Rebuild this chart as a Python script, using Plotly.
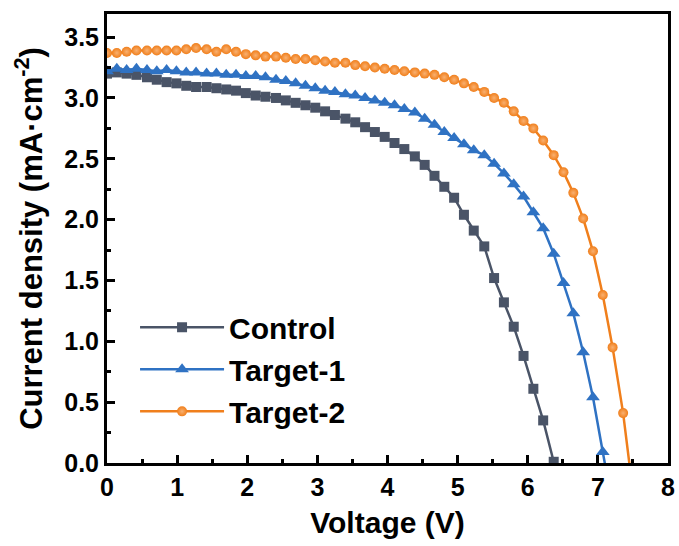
import plotly.graph_objects as go

# Shared voltage sweep (V)
voltage = [0.00, 0.14, 0.28, 0.42, 0.57, 0.71, 0.85, 0.99, 1.13, 1.27,
           1.42, 1.56, 1.70, 1.84, 1.98, 2.12, 2.26, 2.41, 2.55, 2.69,
           2.83, 2.97, 3.11, 3.25, 3.40, 3.54, 3.68, 3.82, 3.96, 4.10,
           4.24, 4.39, 4.53, 4.67, 4.81, 4.95, 5.09, 5.23, 5.38, 5.52,
           5.66, 5.80, 5.94, 6.08, 6.22, 6.37, 6.51, 6.65, 6.79, 6.93,
           7.07, 7.21, 7.36, 7.50]

# Current density (mA/cm^2)
control = [3.20, 3.21, 3.20, 3.19, 3.17, 3.15, 3.13, 3.12, 3.10, 3.09,
           3.09, 3.08, 3.07, 3.06, 3.04, 3.02, 3.01, 3.00, 2.98, 2.96,
           2.94, 2.92, 2.89, 2.86, 2.83, 2.80, 2.76, 2.72, 2.68, 2.63,
           2.58, 2.52, 2.45, 2.36, 2.27, 2.18, 2.04, 1.91, 1.78, 1.52,
           1.32, 1.12, 0.88, 0.61, 0.35, 0.01]

target1 = [3.22, 3.24, 3.23, 3.24, 3.23, 3.22, 3.23, 3.22, 3.21, 3.21,
           3.20, 3.20, 3.19, 3.19, 3.18, 3.18, 3.17, 3.15, 3.14, 3.12,
           3.10, 3.08, 3.06, 3.05, 3.03, 3.02, 3.00, 2.98, 2.96, 2.94,
           2.91, 2.88, 2.83, 2.78, 2.72, 2.67, 2.62, 2.57, 2.53, 2.46,
           2.38, 2.29, 2.19, 2.06, 1.93, 1.72, 1.48, 1.23, 0.91, 0.54,
           0.09, -0.35]

target2 = [3.37, 3.37, 3.38, 3.39, 3.39, 3.39, 3.39, 3.39, 3.40, 3.41,
           3.40, 3.38, 3.40, 3.38, 3.36, 3.35, 3.34, 3.34, 3.33, 3.32,
           3.32, 3.31, 3.30, 3.29, 3.29, 3.27, 3.26, 3.25, 3.24, 3.23,
           3.22, 3.21, 3.20, 3.19, 3.17, 3.15, 3.12, 3.09, 3.05, 3.00,
           2.96, 2.89, 2.81, 2.75, 2.65, 2.53, 2.39, 2.22, 2.01, 1.74,
           1.38, 0.95, 0.41, -0.24]

series_names = ["Control", "Target-1", "Target-2"]
x_ticks = [0, 1, 2, 3, 4, 5, 6, 7, 8]
y_ticks = [0.0, 0.5, 1.0, 1.5, 2.0, 2.5, 3.0, 3.5]

FONT = "Arial, 'Liberation Sans', sans-serif"

styles = [
    dict(color="#4a5467", symbol="square", size=10, gradient=None),
    dict(color="#2f72c3", symbol="triangle-up", size=12, gradient=None),
    dict(color="#f07f1c", symbol="circle", size=10,
         gradient=dict(type="radial", color="#f9b070")),
]
data = [control, target1, target2]

fig = go.Figure()
for name, ys, st in zip(series_names, data, styles):
    marker = dict(symbol=st["symbol"], size=st["size"], color=st["color"],
                  line=dict(width=0))
    if st["gradient"]:
        marker["gradient"] = st["gradient"]
    fig.add_trace(go.Scatter(
        x=voltage[:len(ys)], y=ys, name=name, mode="lines+markers",
        line=dict(color=st["color"], width=2.5),
        marker=marker,
    ))

axis_common = dict(
    showline=True, linewidth=3, linecolor="black", mirror=True,
    ticks="inside", ticklen=8, tickwidth=2.5, tickcolor="black",
    showgrid=False, zeroline=False, automargin=False,
    tickfont=dict(family=FONT, size=25, color="black", weight="bold"),
)

fig.update_xaxes(
    range=[0, 8], tickvals=x_ticks, ticktext=[str(v) for v in x_ticks],
    title_text="Voltage (V)", title_standoff=12,
    title_font=dict(family=FONT, size=30, color="black", weight="bold"),
    minor=dict(ticks="inside", dtick=0.5, ticklen=4, tickwidth=2.5,
               tickcolor="black", showgrid=False),
    **axis_common,
)
fig.update_yaxes(
    range=[0, 3.69], tickvals=y_ticks, ticktext=[f"{v:.1f}" for v in y_ticks],
    title_text="Current density (mA·cm<sup>-2</sup>)", title_standoff=13,
    title_font=dict(family=FONT, size=31, color="black", weight="bold"),
    minor=dict(ticks="inside", dtick=0.25, ticklen=4, tickwidth=2.5,
               tickcolor="black", showgrid=False),
    **axis_common,
)

fig.update_layout(
    width=679, height=546,
    margin=dict(l=107, r=11, t=14, b=83),
    paper_bgcolor="white", plot_bgcolor="white",
    showlegend=True,
    legend=dict(
        x=0.05, y=0.36, xanchor="left", yanchor="top",
        bgcolor="rgba(0,0,0,0)", itemwidth=84,
        font=dict(family=FONT, size=30, color="black", weight="bold"),
        tracegroupgap=0,
    ),
)

fig.write_html("out.html")
